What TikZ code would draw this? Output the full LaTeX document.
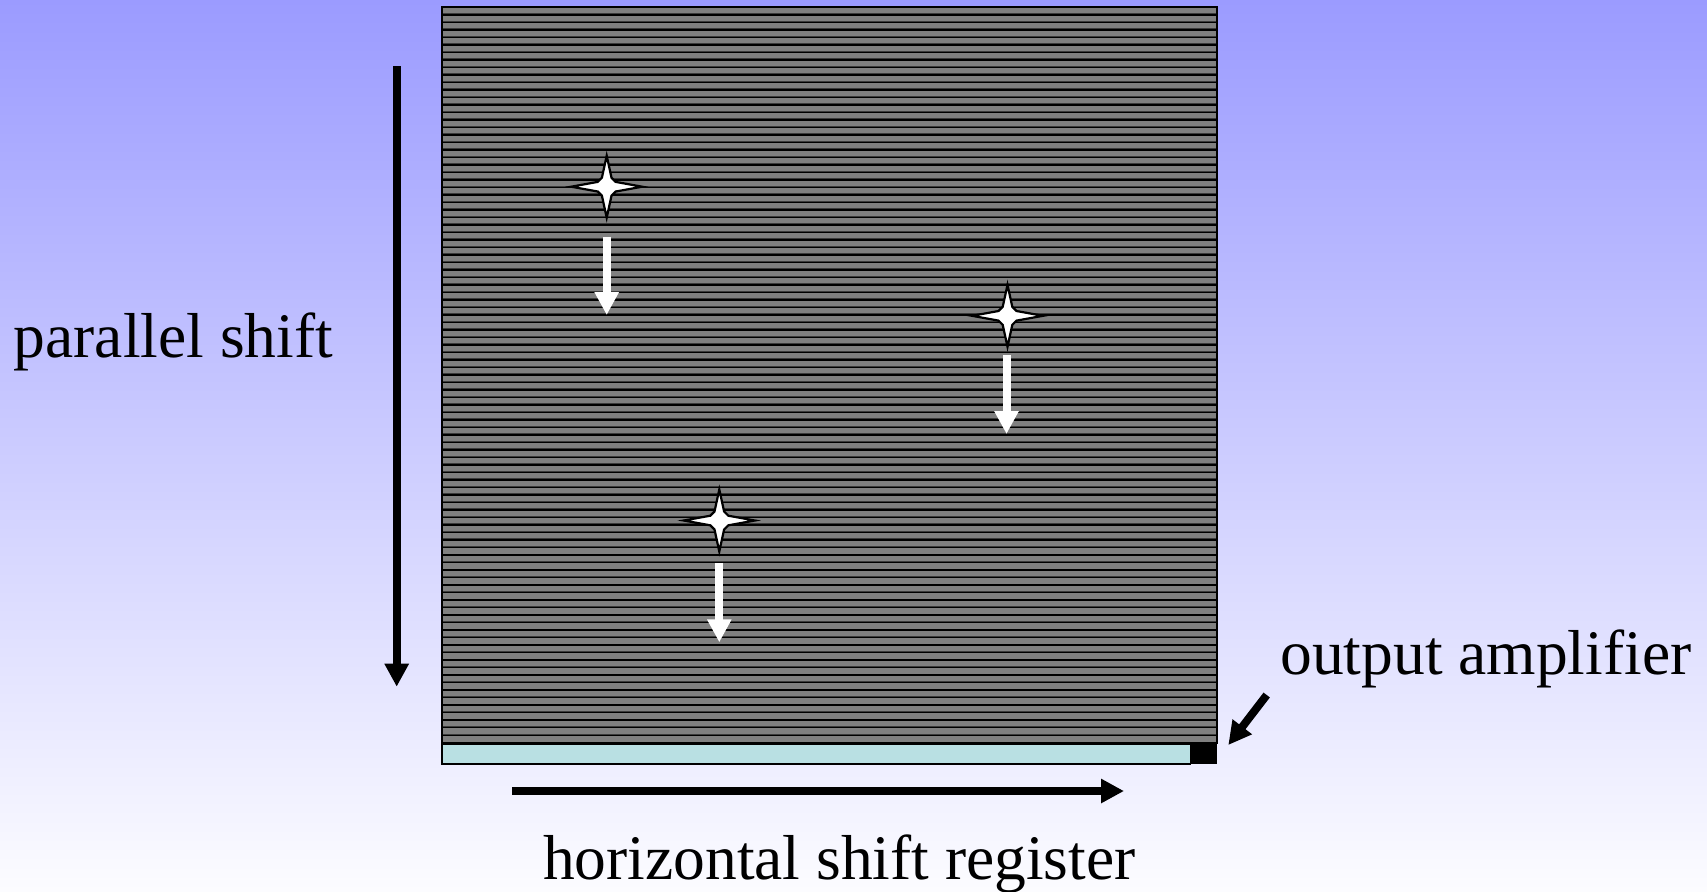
\documentclass[tikz,border=0pt]{standalone}
\usepackage{fontspec}
\setmainfont{Liberation Serif}
\usetikzlibrary{arrows.meta}
\definecolor{bgtop}{RGB}{155,155,255}
\definecolor{bgbot}{RGB}{252,252,255}
\definecolor{pixgray}{RGB}{128,128,128}
\definecolor{rowdark}{RGB}{60,60,60}
\definecolor{regcyan}{RGB}{185,224,227}
\tikzset{
  x=0.5pt, y=-0.5pt,
  bigarrow/.style={line width=4pt, -{Triangle[length=11.5pt,width=11.5pt]}},
  whitearrow/.style={bigarrow, draw=white},
  blackarrow/.style={bigarrow, draw=black},
  textlabel/.style={font=\fontsize{31.75}{38}\selectfont, inner sep=0pt, anchor=base west},
  starshape/.style={fill=white, draw=black, line width=1.1pt, line join=miter},
  rowline/.style={draw=black, line width=0.7pt},
  rowshade/.style={draw=rowdark, line width=0.5pt},
  sparkle/.pic={
    \draw[starshape] (35.5,0) -- (9,-4.8) .. controls (6.5,-6.5) .. (4.8,-9)
      -- (0,-31) -- (-4.8,-9) .. controls (-6.5,-6.5) .. (-9,-4.8)
      -- (-35.5,0) -- (-9,4.8) .. controls (-6.5,6.5) .. (-4.8,9)
      -- (0,31) -- (4.8,9) .. controls (6.5,6.5) .. (9,4.8) -- cycle;
  }
}
\begin{document}
\begin{tikzpicture}
  % background
  \useasboundingbox (0,0) rectangle (1707,891);
  \shade[top color=bgtop, bottom color=bgbot] (0,0) rectangle (1707,891);

  % CCD pixel array: rows of gray cells
  \coordinate (ccd-nw) at (442,7.3);
  \coordinate (ccd-se) at (1216.7,742.7);
  \fill[pixgray] (ccd-nw) rectangle (ccd-se);
  \foreach \i in {1,...,97} {
    \draw[rowshade] (442,7.3+\i*7.504-1.1) -- (1216.7,7.3+\i*7.504-1.1);
    \draw[rowline] (442,7.3+\i*7.504) -- (1216.7,7.3+\i*7.504);
  }
  \draw[black, line width=1pt] (ccd-nw) rectangle (ccd-se);

  % horizontal shift register and output amplifier
  \draw[black, line width=0.6pt, fill=regcyan] (442,744.5) rectangle (1190.7,764);
  \fill[black] (1190.7,741.7) rectangle (1216.7,764);
  \coordinate (amp) at (1228.3,745);

  % charge packets moving down
  \pic at (606.7,186.7) {sparkle};
  \pic at (1007.5,315.8) {sparkle};
  \pic at (719.3,520.5) {sparkle};
  \coordinate (p1-a) at (606.7,236.7);
  \coordinate (p1-b) at (606.7,315);
  \coordinate (p2-a) at (1006.5,355);
  \coordinate (p2-b) at (1006.5,434);
  \coordinate (p3-a) at (719.3,562.8);
  \coordinate (p3-b) at (719.3,642.3);
  \draw[whitearrow] (p1-a) -- (p1-b);
  \draw[whitearrow] (p2-a) -- (p2-b);
  \draw[whitearrow] (p3-a) -- (p3-b);

  % shift directions
  \coordinate (ps-a) at (396.7,66);
  \coordinate (ps-b) at (396.7,686.7);
  \draw[blackarrow] (ps-a) -- (ps-b);
  \coordinate (hs-a) at (512.3,791);
  \coordinate (hs-b) at (1124,791);
  \draw[blackarrow] (hs-a) -- (hs-b);
  \coordinate (amp-tail) at (1266.7,695);
  \draw[blackarrow] (amp-tail) -- (amp);

  % labels
  \node[textlabel] (lbl-par) at (13.5,357) {parallel shift};
  \node[textlabel] (lbl-hor) at (542.7,879.5) {horizontal shift register};
  \node[textlabel] (lbl-amp) at (1280,674.5) {output amplifier};
\end{tikzpicture}
\end{document}
